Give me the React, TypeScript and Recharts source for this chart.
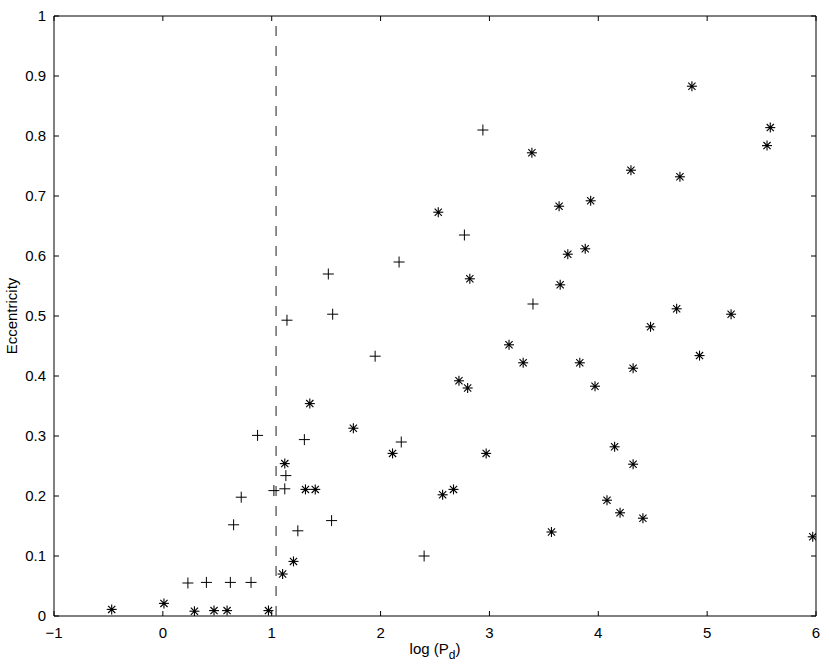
import React from 'react';
import { ScatterChart, Scatter, XAxis, YAxis, ReferenceLine, ReferenceArea } from 'recharts';

// '*' markers: log period vs eccentricity
const starLogP = [
  -0.47, 0.01, 0.29, 0.47, 0.59, 0.97, 1.1, 1.2, 1.12, 1.31, 1.4, 1.35, 1.75, 2.11, 2.57, 2.67,
  2.97, 2.53, 2.72, 2.8, 2.82, 3.18, 3.31, 3.39, 3.57, 3.65, 3.64, 3.72, 3.83, 3.88, 3.93, 3.97,
  4.08, 4.15, 4.2, 4.3, 4.32, 4.32, 4.41, 4.48, 4.72, 4.75, 4.86, 4.93, 5.22, 5.55, 5.58, 5.97,
];
const starEcc = [
  0.011, 0.021, 0.008, 0.009, 0.009, 0.009, 0.07, 0.091, 0.254, 0.211, 0.211, 0.354, 0.313, 0.271, 0.202, 0.211,
  0.271, 0.673, 0.392, 0.38, 0.562, 0.452, 0.422, 0.772, 0.14, 0.552, 0.683, 0.603, 0.422, 0.612, 0.692, 0.383,
  0.193, 0.282, 0.172, 0.743, 0.413, 0.253, 0.163, 0.482, 0.512, 0.732, 0.883, 0.434, 0.503, 0.784, 0.814, 0.132,
];

// '+' markers
const plusLogP = [
  0.23, 0.4, 0.62, 0.81, 0.65, 0.72, 0.87, 1.02, 1.12, 1.13, 1.14, 1.24, 1.3, 1.52, 1.55, 1.56,
  1.95, 2.17, 2.19, 2.4, 2.77, 2.94, 3.4,
];
const plusEcc = [
  0.055, 0.056, 0.056, 0.056, 0.152, 0.198, 0.301, 0.209, 0.212, 0.234, 0.493, 0.142, 0.294, 0.57, 0.159, 0.503,
  0.433, 0.59, 0.29, 0.1, 0.635, 0.81, 0.52,
];

const xTicks = [-1, 0, 1, 2, 3, 4, 5, 6];
const yTicks = [0, 0.1, 0.2, 0.3, 0.4, 0.5, 0.6, 0.7, 0.8, 0.9, 1];
const cutoffLogP = 1.04;

const starData = starLogP.map((x, i) => ({ x, y: starEcc[i] }));
const plusData = plusLogP.map((x, i) => ({ x, y: plusEcc[i] }));

const FONT = '"Liberation Sans", Arial, Helvetica, sans-serif';
const W = 830;
const H = 667;
const PLOT_LEFT = 54;
const PLOT_TOP = 16;
const PLOT_RIGHT = 816;
const PLOT_BOTTOM = 616;
const TICK = 5;

const XTick = (props: any) => {
  const { x, payload } = props;
  const label = String(payload.value).replace('-', '\u2212');
  return (
    <g>
      <line x1={x} x2={x} y1={PLOT_BOTTOM} y2={PLOT_BOTTOM - TICK} stroke="#000" />
      <line x1={x} x2={x} y1={PLOT_TOP} y2={PLOT_TOP + TICK} stroke="#000" />
      <text x={x} y={PLOT_BOTTOM + 11} dy="0.71em" textAnchor="middle" fontSize={15} fontFamily={FONT} fill="#000">
        {label}
      </text>
    </g>
  );
};

const YTick = (props: any) => {
  const { y, payload } = props;
  return (
    <g>
      <line x1={PLOT_LEFT} x2={PLOT_LEFT + TICK} y1={y} y2={y} stroke="#000" />
      <line x1={PLOT_RIGHT} x2={PLOT_RIGHT - TICK} y1={y} y2={y} stroke="#000" />
      <text x={PLOT_LEFT - 8} y={y} dy="0.36em" textAnchor="end" fontSize={15} fontFamily={FONT} fill="#000">
        {String(payload.value)}
      </text>
    </g>
  );
};

const StarShape = (props: any) => {
  const { cx, cy } = props;
  const r = 5;
  const d = 3.6;
  return (
    <g stroke="#000" strokeWidth={1.1}>
      <line x1={cx - r} x2={cx + r} y1={cy} y2={cy} />
      <line x1={cx} x2={cx} y1={cy - r} y2={cy + r} />
      <line x1={cx - d} x2={cx + d} y1={cy - d} y2={cy + d} />
      <line x1={cx - d} x2={cx + d} y1={cy + d} y2={cy - d} />
      <circle cx={cx} cy={cy} r={1.3} fill="#000" stroke="none" />
    </g>
  );
};

const PlusShape = (props: any) => {
  const { cx, cy } = props;
  const r = 5.5;
  return (
    <g stroke="#000" strokeWidth={1}>
      <line x1={cx - r} x2={cx + r} y1={cy} y2={cy} />
      <line x1={cx} x2={cx} y1={cy - r} y2={cy + r} />
    </g>
  );
};

const XLabel = (props: any) => {
  const vb = props.viewBox || {};
  const cx = (vb.x ?? PLOT_LEFT) + (vb.width ?? PLOT_RIGHT - PLOT_LEFT) / 2;
  return (
    <text x={cx} y={654} textAnchor="middle" fontSize={15} fontFamily={FONT} fill="#000">
      log (P<tspan fontSize={12} dy={5}>d</tspan><tspan dy={-5}>)</tspan>
    </text>
  );
};

const YLabel = () => {
  const cy = (PLOT_TOP + PLOT_BOTTOM) / 2;
  return (
    <text x={17} y={cy} transform={`rotate(-90, 17, ${cy})`} textAnchor="middle" fontSize={15} fontFamily={FONT} fill="#000">
      Eccentricity
    </text>
  );
};

export default function App() {
  return (
    <div style={{ width: W, height: H, background: '#fff' }}>
      <style>{'body{margin:0}'}</style>
      <ScatterChart
        width={W}
        height={H}
        margin={{ top: PLOT_TOP, right: W - PLOT_RIGHT, left: 0, bottom: 0 }}
      >
        <XAxis
          type="number"
          dataKey="x"
          domain={[-1, 6]}
          ticks={xTicks}
          allowDataOverflow
          axisLine={false}
          tickLine={false}
          tick={<XTick />}
          height={H - PLOT_BOTTOM}
          label={<XLabel />}
        />
        <YAxis
          type="number"
          dataKey="y"
          domain={[0, 1]}
          ticks={yTicks}
          allowDataOverflow
          axisLine={false}
          tickLine={false}
          tick={<YTick />}
          width={PLOT_LEFT}
          label={<YLabel />}
        />
        <ReferenceArea x1={-1} x2={6} y1={0} y2={1} fill="none" fillOpacity={0} stroke="#000" strokeWidth={1} />
        <ReferenceLine x={cutoffLogP} stroke="#444" strokeWidth={1.2} strokeDasharray="10 10" />
        <Scatter data={starData} shape={<StarShape />} isAnimationActive={false} />
        <Scatter data={plusData} shape={<PlusShape />} isAnimationActive={false} />
      </ScatterChart>
    </div>
  );
}
